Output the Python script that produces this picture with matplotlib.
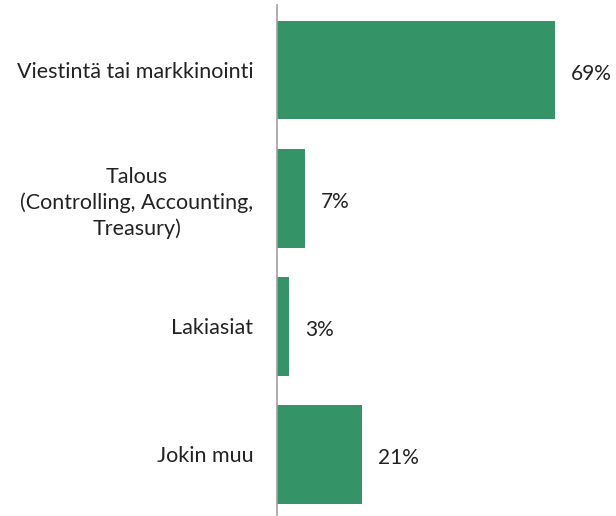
import matplotlib
matplotlib.use("Agg")
import matplotlib.pyplot as plt

categories = ["Viestintä tai markkinointi", "Talous\n(Controlling, Accounting,\nTreasury)", "Lakiasiat", "Jokin muu"]
values = [69, 7, 3, 21]
value_labels = ["69%", "7%", "3%", "21%"]

plt.rcParams['font.family'] = ['Lato', 'DejaVu Sans']

fig = plt.figure(figsize=(6.16, 5.16), dpi=100)
ax = fig.add_axes([277/616, 1 - 515/516, 334.5/616, 510/516])

pos = list(range(len(categories)))
ax.barh(pos, values, height=0.77, color="#359467")
ax.set_xlim(0, 83)
ax.set_ylim(3.473, -0.508)

for p, v, lab in zip(pos, values, value_labels):
    ax.annotate(lab, xy=(v, p), xytext=(16, -4), textcoords="offset pixels",
                ha="left", va="center", fontsize=15, color="#222222")

ax.set_yticks(pos)
ax.set_yticklabels(categories, fontsize=15.5, color="#222222",
                   multialignment="center", linespacing=1.35)
ax.tick_params(axis="y", length=0, pad=17)
ax.set_xticks([])
for s in ["top", "right", "bottom"]:
    ax.spines[s].set_visible(False)
ax.spines["left"].set_color("#a0a0a0")
ax.spines["left"].set_linewidth(1.2)

fig.savefig("out.png", dpi=100)
